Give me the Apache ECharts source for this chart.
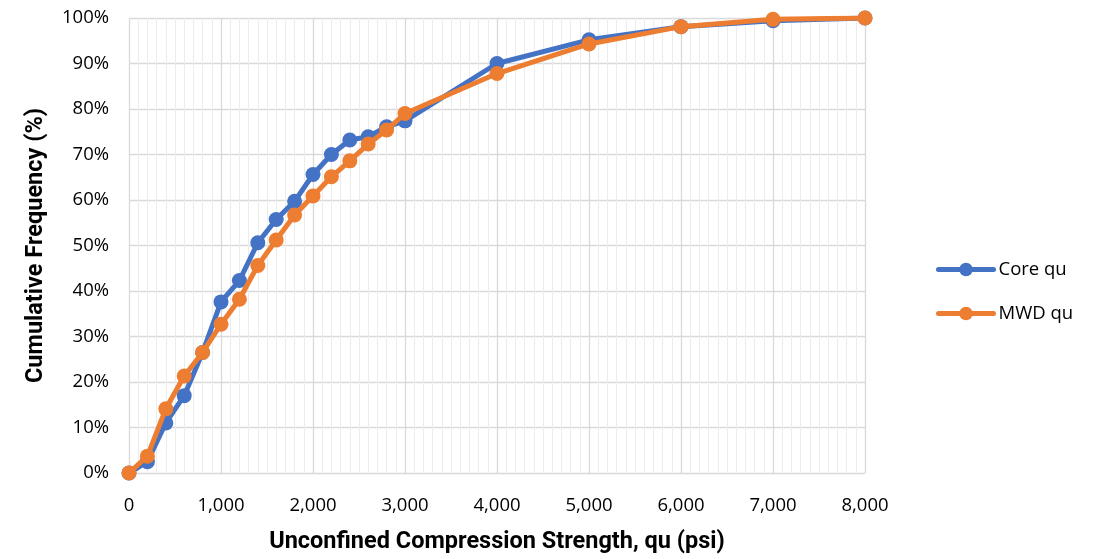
<!DOCTYPE html>
<html>
<head>
<meta charset="utf-8">
<script src="https://cdn.jsdelivr.net/npm/echarts@6/dist/echarts.min.js"></script>
<style>
  html, body { margin: 0; padding: 0; background: #fff; }
  #chart { width: 1104px; height: 559px; }
</style>
</head>
<body>
<div id="chart"></div>
<script>
// Unconfined compression strength (psi) at each cumulative step
const strengthPsi = [0, 200, 400, 600, 800, 1000, 1200, 1400, 1600, 1800, 2000, 2200, 2400, 2600, 2800, 3000, 4000, 5000, 6000, 7000, 8000];
// Cumulative frequency (%) for core samples
const coreQu = [0, 2.5, 11.0, 17.0, 26.5, 37.6, 42.3, 50.6, 55.7, 59.7, 65.6, 70.0, 73.2, 73.9, 76.1, 77.4, 90.0, 95.2, 98.1, 99.4, 100];
// Cumulative frequency (%) for MWD-derived values
const mwdQu = [0, 3.7, 14.1, 21.3, 26.5, 32.7, 38.2, 45.6, 51.2, 56.7, 60.9, 65.1, 68.6, 72.3, 75.4, 79.0, 87.8, 94.3, 98.1, 99.7, 100];
const seriesNames = ['Core qu', 'MWD qu'];
const seriesColors = ['#4472C4', '#ED7D31'];

const labelFont = '"Open Sans", "Noto Sans", sans-serif';
const titleFont = 'Roboto, "Open Sans", sans-serif';
const pairs = (ys) => strengthPsi.map((x, i) => [x, ys[i]]);

const chart = echarts.init(document.getElementById('chart'), null, { renderer: 'canvas' });
chart.setOption({
  animation: false,
  backgroundColor: '#ffffff',
  textStyle: { fontFamily: labelFont, color: '#000' },
  grid: { left: 129, right: 239, top: 18, bottom: 86, containLabel: false },
  legend: {
    orient: 'vertical',
    left: 931,
    top: 255,
    itemWidth: 55,
    itemHeight: 17,
    itemGap: 25,
    data: seriesNames,
    lineStyle: { width: 5, cap: 'round' },
    textStyle: { fontFamily: labelFont, fontSize: 18.5, color: '#000' }
  },
  xAxis: {
    type: 'value',
    min: 0, max: 8000, interval: 1000,
    name: 'Unconfined Compression Strength, qu (psi)',
    nameLocation: 'middle',
    nameGap: 57,
    nameTextStyle: { fontFamily: titleFont, fontSize: 23.5, fontWeight: 'bold', color: '#000' },
    axisLine: { show: false },
    axisTick: { show: false },
    axisLabel: {
      margin: 23, fontSize: 18.5, color: '#000', fontFamily: labelFont,
      formatter: (v) => v.toLocaleString('en-US')
    },
    splitLine: { show: true, lineStyle: { color: '#d9d9d9', width: 1.3 } },
    minorTick: { show: false, splitNumber: 10 },
    minorSplitLine: { show: true, lineStyle: { color: '#ececec', width: 1 } }
  },
  yAxis: {
    type: 'value',
    min: 0, max: 100, interval: 10,
    name: 'Cumulative Frequency (%)',
    nameLocation: 'middle',
    nameGap: 81,
    nameTextStyle: { fontFamily: titleFont, fontSize: 23.5, fontWeight: 'bold', color: '#000' },
    axisLine: { show: false },
    axisTick: { show: false },
    axisLabel: { margin: 20, fontSize: 18.5, color: '#000', fontFamily: labelFont, formatter: '{value}%' },
    splitLine: { show: true, lineStyle: { color: '#d9d9d9', width: 1.3 } }
  },
  series: [
    {
      name: seriesNames[0], type: 'line', data: pairs(coreQu),
      color: seriesColors[0],
      symbol: 'circle', symbolSize: 15,
      lineStyle: { width: 5, cap: 'round', join: 'round' },
      itemStyle: { color: seriesColors[0] },
      z: 2
    },
    {
      name: seriesNames[1], type: 'line', data: pairs(mwdQu),
      color: seriesColors[1],
      symbol: 'circle', symbolSize: 15,
      lineStyle: { width: 5, cap: 'round', join: 'round' },
      itemStyle: { color: seriesColors[1] },
      z: 3
    }
  ]
});
</script>
</body>
</html>
